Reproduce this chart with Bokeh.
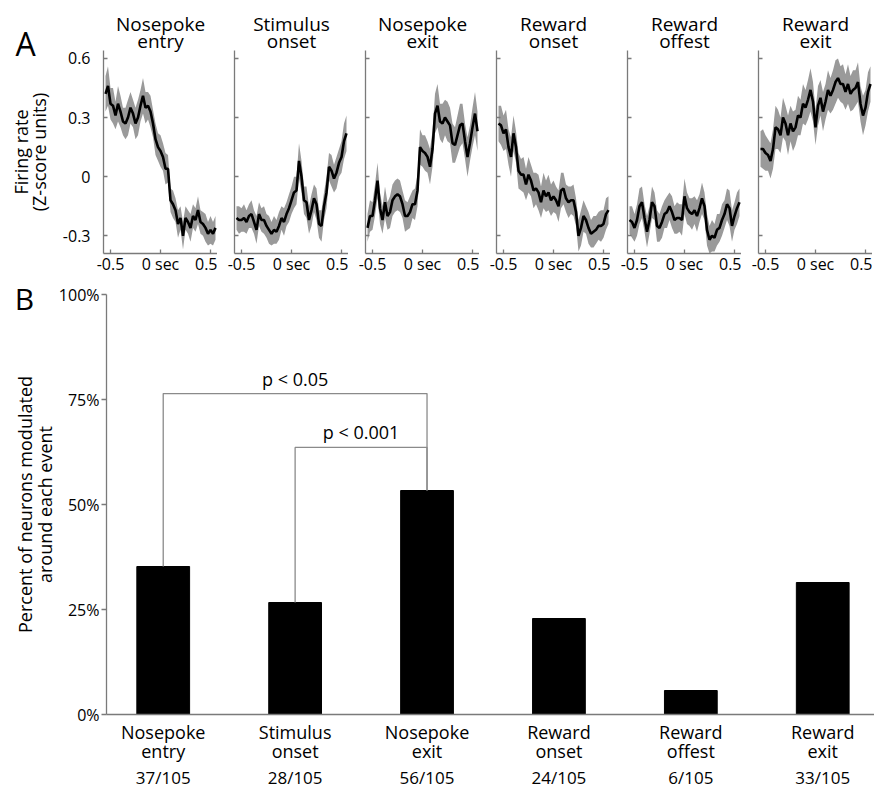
import math
from bokeh.plotting import figure
from bokeh.layouts import column, row
from bokeh.models import Range1d, FixedTicker, Label, LinearAxis
from bokeh.embed import file_html
from bokeh.resources import INLINE

FONT = "Open Sans"
AXIS_GRAY = "#7a7a7a"
BAND_GRAY = "#9a9a9a"

# ---------------- data ----------------
event_line1 = ["Nosepoke", "Stimulus", "Nosepoke", "Reward", "Reward", "Reward"]
event_line2 = ["entry", "onset", "exit", "onset", "offest", "exit"]

time_s = [-0.55, -0.525, -0.5, -0.475, -0.45, -0.425, -0.4, -0.375, -0.35, -0.325,
          -0.3, -0.275, -0.25, -0.225, -0.2, -0.175, -0.15, -0.125, -0.1, -0.075,
          -0.05, -0.025, 0.0, 0.025, 0.05, 0.075, 0.1, 0.125, 0.15, 0.175,
          0.2, 0.225, 0.25, 0.275, 0.3, 0.325, 0.35, 0.375, 0.4, 0.425,
          0.45, 0.475, 0.5, 0.525, 0.55]

mean_nosepoke_entry = [0.42, 0.46, 0.37, 0.36, 0.31, 0.37, 0.33, 0.28, 0.27, 0.30,
                       0.35, 0.32, 0.27, 0.30, 0.36, 0.41, 0.35, 0.36, 0.33, 0.27,
                       0.19, 0.15, 0.13, 0.10, 0.04, 0.04, -0.12, -0.14, -0.17, -0.24,
                       -0.21, -0.30, -0.21, -0.23, -0.26, -0.20, -0.22, -0.17, -0.23, -0.24,
                       -0.26, -0.29, -0.27, -0.29, -0.26]
mean_stimulus_onset = [-0.21, -0.22, -0.22, -0.21, -0.23, -0.20, -0.19, -0.23, -0.27, -0.19,
                       -0.22, -0.22, -0.25, -0.27, -0.29, -0.27, -0.28, -0.25, -0.21, -0.23,
                       -0.19, -0.16, -0.12, -0.08, -0.07, 0.08, 0.00, -0.12, -0.13, -0.22,
                       -0.17, -0.11, -0.14, -0.24, -0.25, -0.15, -0.08, 0.05, 0.03, -0.01,
                       0.02, 0.07, 0.10, 0.18, 0.22]
mean_nosepoke_exit = [-0.26, -0.20, -0.20, -0.12, -0.02, -0.16, -0.22, -0.13, -0.20, -0.18,
                      -0.12, -0.10, -0.09, -0.10, -0.14, -0.20, -0.20, -0.18, -0.14, -0.14,
                      -0.07, 0.15, 0.13, 0.12, 0.10, 0.05, 0.14, 0.32, 0.36, 0.28,
                      0.27, 0.30, 0.28, 0.26, 0.17, 0.16, 0.21, 0.26, 0.27, 0.18,
                      0.10, 0.17, 0.25, 0.32, 0.23]
mean_reward_onset = [0.27, 0.26, 0.22, 0.24, 0.15, 0.10, 0.22, 0.15, 0.03, 0.01,
                     0.01, -0.04, 0.01, -0.02, -0.07, -0.06, -0.08, -0.13, -0.07, -0.10,
                     -0.08, -0.12, -0.10, -0.12, -0.15, -0.07, -0.06, -0.11, -0.13, -0.12,
                     -0.12, -0.18, -0.30, -0.26, -0.20, -0.22, -0.26, -0.29, -0.28, -0.27,
                     -0.25, -0.25, -0.24, -0.19, -0.17]
mean_reward_offset = [-0.22, -0.23, -0.26, -0.22, -0.15, -0.13, -0.21, -0.28, -0.22, -0.13,
                      -0.15, -0.25, -0.26, -0.23, -0.19, -0.18, -0.15, -0.18, -0.22, -0.21,
                      -0.21, -0.22, -0.10, -0.16, -0.18, -0.19, -0.17, -0.20, -0.16, -0.11,
                      -0.15, -0.27, -0.32, -0.30, -0.31, -0.27, -0.26, -0.22, -0.19, -0.14,
                      -0.16, -0.25, -0.20, -0.16, -0.13]
mean_reward_exit = [0.14, 0.14, 0.12, 0.11, 0.08, 0.14, 0.25, 0.24, 0.21, 0.30,
                    0.27, 0.21, 0.27, 0.23, 0.25, 0.31, 0.30, 0.37, 0.35, 0.39,
                    0.44, 0.38, 0.25, 0.36, 0.40, 0.33, 0.38, 0.44, 0.41, 0.44,
                    0.48, 0.50, 0.47, 0.47, 0.43, 0.47, 0.42, 0.44, 0.45, 0.48,
                    0.37, 0.31, 0.35, 0.43, 0.47]

sem_nosepoke_entry = [0.09, 0.10, 0.08, 0.09, 0.07, 0.09, 0.08, 0.07, 0.08, 0.09,
                      0.08, 0.07, 0.08, 0.09, 0.08, 0.09, 0.08, 0.07, 0.08, 0.07,
                      0.08, 0.07, 0.08, 0.07, 0.08, 0.07, 0.06, 0.07, 0.06, 0.07,
                      0.06, 0.07, 0.06, 0.06, 0.07, 0.06, 0.06, 0.07, 0.06, 0.06,
                      0.07, 0.06, 0.07, 0.06, 0.06]
sem_stimulus_onset = [0.06, 0.07, 0.06, 0.07, 0.06, 0.06, 0.07, 0.06, 0.07, 0.06,
                      0.06, 0.07, 0.06, 0.07, 0.06, 0.07, 0.06, 0.07, 0.06, 0.07,
                      0.06, 0.07, 0.07, 0.08, 0.07, 0.09, 0.08, 0.07, 0.08, 0.07,
                      0.08, 0.07, 0.08, 0.07, 0.08, 0.07, 0.08, 0.07, 0.08, 0.07,
                      0.08, 0.07, 0.08, 0.09, 0.09]
sem_nosepoke_exit = [0.07, 0.08, 0.07, 0.08, 0.09, 0.08, 0.07, 0.08, 0.07, 0.08,
                     0.08, 0.08, 0.08, 0.08, 0.07, 0.08, 0.07, 0.08, 0.07, 0.08,
                     0.08, 0.09, 0.08, 0.09, 0.08, 0.09, 0.09, 0.10, 0.11, 0.09,
                     0.10, 0.09, 0.10, 0.09, 0.10, 0.09, 0.10, 0.11, 0.10, 0.09,
                     0.10, 0.09, 0.10, 0.11, 0.10]
sem_reward_onset = [0.09, 0.10, 0.09, 0.10, 0.09, 0.10, 0.09, 0.08, 0.09, 0.08,
                    0.09, 0.08, 0.09, 0.08, 0.09, 0.08, 0.09, 0.08, 0.09, 0.08,
                    0.09, 0.08, 0.08, 0.07, 0.08, 0.09, 0.08, 0.07, 0.08, 0.07,
                    0.08, 0.07, 0.08, 0.09, 0.08, 0.07, 0.08, 0.07, 0.08, 0.07,
                    0.07, 0.08, 0.07, 0.08, 0.07]
sem_reward_offset = [0.07, 0.08, 0.07, 0.08, 0.09, 0.08, 0.07, 0.08, 0.07, 0.08,
                     0.07, 0.08, 0.07, 0.08, 0.07, 0.08, 0.07, 0.08, 0.07, 0.08,
                     0.07, 0.08, 0.09, 0.08, 0.07, 0.08, 0.07, 0.08, 0.07, 0.08,
                     0.07, 0.08, 0.07, 0.08, 0.07, 0.08, 0.07, 0.08, 0.07, 0.08,
                     0.09, 0.08, 0.07, 0.08, 0.07]
sem_reward_exit = [0.09, 0.10, 0.09, 0.08, 0.09, 0.10, 0.11, 0.10, 0.09, 0.10,
                   0.09, 0.10, 0.09, 0.10, 0.09, 0.10, 0.09, 0.10, 0.09, 0.10,
                   0.11, 0.10, 0.09, 0.10, 0.09, 0.10, 0.09, 0.10, 0.09, 0.10,
                   0.11, 0.10, 0.09, 0.10, 0.09, 0.10, 0.09, 0.10, 0.09, 0.10,
                   0.09, 0.10, 0.09, 0.10, 0.09]

means = [mean_nosepoke_entry, mean_stimulus_onset, mean_nosepoke_exit,
         mean_reward_onset, mean_reward_offset, mean_reward_exit]
sems = [sem_nosepoke_entry, sem_stimulus_onset, sem_nosepoke_exit,
        sem_reward_onset, sem_reward_offset, sem_reward_exit]

a_xticks = [-0.5, 0, 0.5]
a_xtick_labels = ["-0.5", "0 sec", "0.5"]
a_yticks = [-0.3, 0, 0.3, 0.6]
a_ytick_labels = ["-0.3", "0", "0.3", "0.6"]
a_ylabel = ["Firing rate", "(Z-score units)"]

modulated = [37, 28, 56, 24, 6, 33]
total_neurons = 105
b_yticks = [0, 25, 50, 75, 100]
b_ytick_labels = ["0%", "25%", "50%", "75%", "100%"]
b_ylabel = ["Percent of neurons modulated", "around each event"]

# significance brackets: (first event, second event, label)
comparisons = [(0, 2, "p < 0.05"), (1, 2, "p < 0.001")]
bracket_levels = [76.4, 63.6]

# ---------------- layout constants ----------------
STRIP_W = 55
A_FRAME_W, A_FRAME_H = 114, 203
A_LEFT_FIRST, A_GAP = 48, 17
A_TOP, A_BOTTOM = 50, 24
A_H = A_TOP + A_FRAME_H + A_BOTTOM
A_XR = (-0.57, 0.57)
A_YR = (-0.39, 0.64)

B_LEFT = 48
B_FRAME_W, B_FRAME_H = 769, 420
B_TOP, B_BOTTOM = 17, 74
B_H = B_TOP + B_FRAME_H + B_BOTTOM
B_XR = (0.57, 6.40)
B_YR = (0, 100)


def style_axis(ax, size="16px"):
    ax.axis_line_color = AXIS_GRAY
    ax.axis_line_width = 1.3
    ax.major_tick_line_color = AXIS_GRAY
    ax.major_tick_line_width = 1.3
    ax.minor_tick_line_color = None
    ax.major_label_text_font = FONT
    ax.major_label_text_font_size = size
    ax.major_label_text_color = "black"


def set_standoff(ax, value, fallback):
    try:
        ax.major_label_standoff = value
    except Exception:
        ax.major_label_standoff = fallback


def text_axis(labels_by_tick, size, line_height, standoff, fallback=0):
    t = LinearAxis(ticker=FixedTicker(ticks=list(labels_by_tick.keys())),
                   major_label_overrides=labels_by_tick)
    style_axis(t, size)
    t.axis_line_color = None
    t.major_tick_line_color = None
    t.major_tick_in = 0
    t.major_tick_out = 0
    t.major_label_text_line_height = line_height
    set_standoff(t, standoff, fallback)
    return t


def make_strip(w, h):
    s = figure(width=w, height=h, x_range=Range1d(0, w), y_range=Range1d(0, h),
               output_backend="svg", toolbar_location=None, title=None,
               min_border=0, x_axis_location=None, y_axis_location=None,
               outline_line_color=None, background_fill_color="white",
               border_fill_color="white")
    try:
        s.frame_align = False
    except Exception:
        pass
    s.xgrid.visible = False
    s.ygrid.visible = False
    return s


def txt(x, y, text, size, angle=0.0, align="center", baseline="middle"):
    return Label(x=x, y=y, text=text, angle=angle, text_font=FONT,
                 text_font_size=size, text_align=align, text_baseline=baseline,
                 text_color="black")


# left strip of panel A: panel letter + y-axis title
strip_a = make_strip(STRIP_W, A_H)
strip_a.add_layout(txt(25, A_H - 43, "A", "32px"))
a_mid = A_H - (A_TOP + A_FRAME_H / 2)
strip_a.add_layout(txt(20, a_mid, a_ylabel[0], "18px", angle=math.pi / 2))
strip_a.add_layout(txt(38, a_mid, a_ylabel[1], "18px", angle=math.pi / 2))

figs_a = []
for i in range(6):
    first = i == 0
    p = figure(frame_width=A_FRAME_W, frame_height=A_FRAME_H,
               x_range=Range1d(*A_XR), y_range=Range1d(*A_YR),
               output_backend="svg", toolbar_location=None, title=None,
               min_border_left=A_LEFT_FIRST if first else A_GAP, min_border_right=0,
               min_border_top=A_TOP, min_border_bottom=A_BOTTOM,
               outline_line_color=None, background_fill_color="white",
               border_fill_color="white")
    p.xgrid.visible = False
    p.ygrid.visible = False

    m = means[i]
    s = sems[i]
    lower = [a - b for a, b in zip(m, s)]
    upper = [a + b for a, b in zip(m, s)]
    p.varea(x=time_s, y1=lower, y2=upper, fill_color=BAND_GRAY, fill_alpha=1.0)
    p.line(time_s, m, line_color="black", line_width=2.6)

    ax = p.below[0]
    style_axis(ax)
    ax.ticker = FixedTicker(ticks=a_xticks)
    ax.major_label_overrides = dict(zip(a_xticks, a_xtick_labels))
    ax.major_tick_in = 4
    ax.major_tick_out = 0
    set_standoff(ax, -1, 0)

    ay = p.left[0]
    style_axis(ay)
    ay.ticker = FixedTicker(ticks=a_yticks)
    ay.major_tick_in = 4
    ay.major_tick_out = 0
    if first:
        ay.major_label_overrides = dict(zip(a_yticks, a_ytick_labels))
        ay.major_label_standoff = 13
    else:
        ay.major_label_overrides = {t: "" for t in a_yticks}
        ay.major_label_standoff = 0

    # two-line event title, centred over the panel
    p.add_layout(text_axis({0: event_line1[i] + "\n" + event_line2[i]},
                           "19px", 0.63, -3, 0), "above")
    figs_a.append(p)

# ---------------- panel B ----------------
positions = list(range(1, len(modulated) + 1))
percent = [100.0 * n / total_neurons for n in modulated]

strip_b = make_strip(STRIP_W, B_H)
strip_b.add_layout(txt(24, B_H - 21, "B", "30px"))
b_mid = B_H - (B_TOP + B_FRAME_H / 2)
strip_b.add_layout(txt(24, b_mid, b_ylabel[0], "18px", angle=math.pi / 2))
strip_b.add_layout(txt(44, b_mid, b_ylabel[1], "18px", angle=math.pi / 2))

pb = figure(frame_width=B_FRAME_W, frame_height=B_FRAME_H,
            x_range=Range1d(*B_XR), y_range=Range1d(*B_YR),
            output_backend="svg", toolbar_location=None, title=None,
            min_border_left=B_LEFT, min_border_right=0,
            min_border_top=B_TOP, min_border_bottom=B_BOTTOM,
            outline_line_color=None, background_fill_color="white",
            border_fill_color="white")
pb.xgrid.visible = False
pb.ygrid.visible = False

pb.vbar(x=positions, top=percent, width=0.4, bottom=0,
        fill_color="black", line_color="black", line_width=1)

for (a, b, label_text), lvl in zip(comparisons, bracket_levels):
    pb.line([positions[a], positions[a], positions[b], positions[b]],
            [percent[a], lvl, lvl, percent[b]],
            line_color="#8a8a8a", line_width=1.3)
    pb.add_layout(Label(x=(positions[a] + positions[b]) / 2, y=lvl, y_offset=3,
                        text=label_text, text_font=FONT, text_font_size="18px",
                        text_align="center", text_baseline="bottom",
                        text_color="black"))

by = pb.left[0]
style_axis(by)
by.ticker = FixedTicker(ticks=b_yticks)
by.major_label_overrides = dict(zip(b_yticks, b_ytick_labels))
by.major_tick_in = 0
by.major_tick_out = 5
by.major_label_standoff = 2

bx = pb.below[0]
style_axis(bx, "18px")
bx.ticker = FixedTicker(ticks=positions)
bx.major_label_overrides = {pos: l1 + "\n" + l2 for pos, l1, l2 in
                            zip(positions, event_line1, event_line2)}
bx.major_label_text_line_height = 0.8
bx.major_tick_in = 0
bx.major_tick_out = 0
bx.major_tick_line_color = None
bx.major_label_standoff = 5

pb.add_layout(text_axis({pos: f"{n}/{total_neurons}" for pos, n in
                         zip(positions, modulated)}, "17px", 1.0, 0), "below")

layout = column(row(strip_a, *figs_a, spacing=0),
                row(strip_b, pb, spacing=0), spacing=0)

with open("out.html", "w") as f:
    f.write(file_html(layout, INLINE))
